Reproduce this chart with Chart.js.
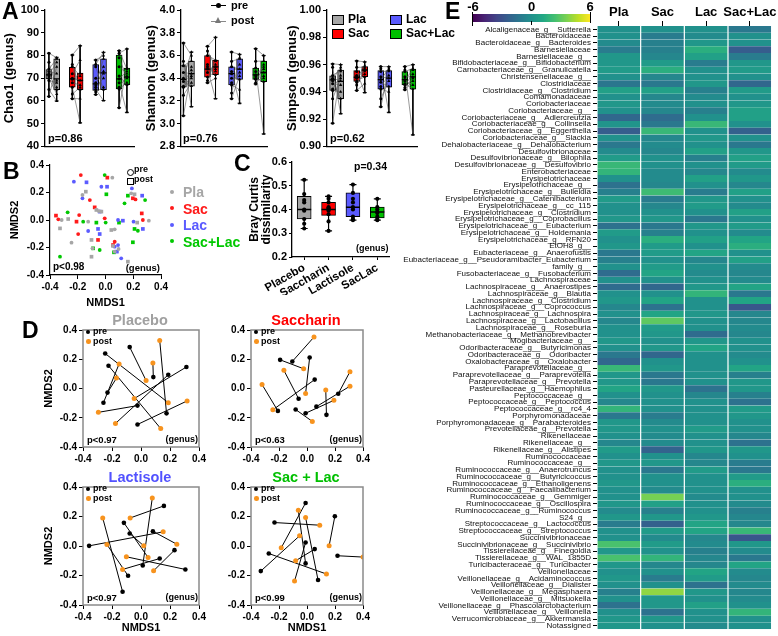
<!DOCTYPE html>
<html>
<head>
<meta charset="utf-8">
<title>Sweetener microbiome figure</title>
<script src="https://cdn.jsdelivr.net/npm/chart.js@4.4.1/dist/chart.umd.min.js"></script>
<style>
  html, body { margin: 0; padding: 0; background: #fff; }
  body { position: relative; width: 778px; height: 636px; overflow: hidden; font-family: 'Liberation Sans', Arial, sans-serif; }
  .c { position: absolute; }
  .t { position: absolute; white-space: nowrap; font-weight: bold; line-height: 1; }
  .mk { position: absolute; }
</style>
</head>
<body>
<script>
// ---------- panel A : alpha diversity (min, q1, median, q3, max) ----------
// order: Pla pre, Pla post, Sac pre, Sac post, Lac pre, Lac post, Sac+Lac pre, Sac+Lac post
const chao1Box = [[62, 69.7, 71.5, 73.8, 81], [60, 65, 69.7, 78.5, 79.2], [61, 66, 69.7, 74.8, 80.2], [50.4, 65, 69, 72.3, 84.3],
                  [62.8, 64.6, 67.5, 76, 78], [60.2, 65, 72.3, 78.5, 81.4], [57, 65.3, 69.7, 80.2, 82.1], [55, 67.1, 70.5, 74.4, 82.9]];
const chao1Pre = [[81, 77, 74, 73, 72, 71.5, 71, 70, 69, 65, 62], [80.2, 76, 75, 72, 70, 69.5, 68, 66, 63, 61],
                  [78, 76, 75, 70, 68, 67, 66, 65, 64, 62.8], [82.1, 81, 79, 75, 71, 69.7, 68, 66, 65.3, 57]];
const chao1Post = [[79, 66, 78.5, 72, 65, 77, 69, 63, 68, 60, 75], [84.3, 65, 71, 78, 69, 72, 67, 50.4, 66, 61],
                   [80, 81.4, 65, 75, 72, 78.5, 70, 60.2, 66, 73], [74, 82.9, 70, 72, 67, 73, 55, 71, 68, 74.4]];

const shannonBox = [[3.07, 3.32, 3.39, 3.51, 3.71], [3.15, 3.33, 3.44, 3.55, 3.63], [3.36, 3.41, 3.48, 3.60, 3.68], [3.22, 3.43, 3.50, 3.56, 3.76],
                    [3.22, 3.34, 3.44, 3.50, 3.63], [3.18, 3.39, 3.48, 3.57, 3.61], [3.35, 3.39, 3.43, 3.49, 3.66], [2.91, 3.37, 3.45, 3.55, 3.60]];
const shannonPre = [[3.71, 3.55, 3.51, 3.45, 3.40, 3.39, 3.37, 3.33, 3.32, 3.25, 3.07], [3.68, 3.64, 3.60, 3.52, 3.48, 3.45, 3.41, 3.38, 3.36, 3.50],
                    [3.63, 3.55, 3.50, 3.46, 3.44, 3.40, 3.36, 3.34, 3.27, 3.22], [3.66, 3.55, 3.49, 3.46, 3.43, 3.42, 3.40, 3.39, 3.36, 3.35]];
const shannonPost = [[3.60, 3.15, 3.55, 3.44, 3.63, 3.40, 3.33, 3.50, 3.42, 3.36, 3.47], [3.76, 3.50, 3.56, 3.43, 3.22, 3.52, 3.46, 3.55, 3.40, 3.48],
                     [3.61, 3.57, 3.48, 3.18, 3.52, 3.39, 3.45, 3.30, 3.58, 3.42], [3.60, 3.55, 2.91, 3.45, 3.50, 3.40, 3.37, 3.48, 3.42, 3.52]];

const simpsonBox = [[0.917, 0.941, 0.9488, 0.9517, 0.9605], [0.924, 0.935, 0.9476, 0.956, 0.960], [0.941, 0.9476, 0.9507, 0.9556, 0.9627], [0.9395, 0.9512, 0.956, 0.9585, 0.962],
                    [0.929, 0.942, 0.949, 0.9556, 0.9585], [0.925, 0.9434, 0.950, 0.9556, 0.9585], [0.9415, 0.945, 0.949, 0.9549, 0.9585], [0.9085, 0.942, 0.951, 0.9566, 0.960]];
const simpsonPre = [[0.9605, 0.958, 0.952, 0.950, 0.949, 0.948, 0.946, 0.942, 0.941, 0.935, 0.917], [0.9627, 0.958, 0.955, 0.952, 0.951, 0.950, 0.948, 0.947, 0.945, 0.941],
                    [0.9585, 0.957, 0.955, 0.951, 0.949, 0.947, 0.944, 0.942, 0.935, 0.929], [0.9585, 0.956, 0.955, 0.951, 0.949, 0.948, 0.946, 0.945, 0.943, 0.9415]];
const simpsonPost = [[0.960, 0.924, 0.956, 0.948, 0.958, 0.935, 0.945, 0.952, 0.940, 0.950, 0.955], [0.962, 0.958, 0.9395, 0.956, 0.955, 0.959, 0.951, 0.953, 0.957, 0.946],
                     [0.9585, 0.925, 0.955, 0.950, 0.957, 0.944, 0.952, 0.940, 0.948, 0.956], [0.960, 0.9085, 0.957, 0.951, 0.956, 0.945, 0.942, 0.953, 0.950, 0.948]];

// ---------- panel B : NMDS all groups ----------
const bPlaPre = [[0.049, 0.308], [-0.166, 0.182], [-0.049, 0.065], [-0.316, 0.000], [-0.125, -0.012], [0.066, -0.068], [0.185, 0.194], [0.312, -0.005], [-0.245, -0.165], [-0.094, -0.206], [0.094, -0.211], [0.066, -0.230]];
const bPlaPost = [[-0.142, 0.206], [-0.066, 0.073], [-0.030, 0.061], [-0.269, 0.007], [-0.328, -0.061], [0.042, -0.073], [0.209, 0.187], [0.228, -0.019], [-0.101, -0.145], [0.054, -0.189], [-0.101, -0.267], [0.161, -0.303]];
const bSacPre = [[-0.178, 0.327], [-0.113, 0.145], [-0.190, 0.036], [-0.340, 0.005], [-0.006, 0.012], [0.216, 0.150], [0.269, 0.000], [0.066, -0.158], [-0.197, -0.102]];
const bSacPost = [[0.013, 0.308], [-0.078, 0.092], [-0.357, 0.032], [-0.209, -0.012], [0.197, 0.158], [0.261, 0.048], [-0.054, -0.145], [0.054, -0.182]];
const bLacPre = [[-0.228, 0.279], [-0.030, 0.242], [-0.166, 0.158], [0.190, 0.230], [0.090, 0.000], [0.202, -0.012], [-0.125, -0.080], [0.066, -0.194], [0.113, -0.279], [0.090, -0.182]];
const bLacPost = [[-0.137, 0.274], [0.011, 0.242], [0.264, 0.177], [-0.042, 0.061], [0.125, -0.005], [-0.054, -0.065], [-0.042, -0.102], [0.082, -0.230], [0.269, -0.065]];
const bSLPre = [[-0.006, 0.327], [-0.161, -0.012], [-0.273, 0.056], [0.137, 0.121], [0.285, 0.145], [0.233, -0.078], [-0.328, -0.267], [-0.042, -0.218], [0.001, -0.019]];
const bSLPost = [[0.006, 0.187], [-0.066, -0.019], [0.097, -0.019], [0.161, 0.177], [0.209, -0.065], [0.197, -0.162], [-0.090, -0.206], [0.061, -0.235]];

// ---------- panel C : Bray Curtis ----------
const cNames = ['Placebo', 'Saccharin', 'Lactisole', 'SacLac'];
const cBox = [[0.32, 0.36, 0.40, 0.455, 0.525], [0.31, 0.375, 0.40, 0.43, 0.455], [0.355, 0.37, 0.41, 0.47, 0.505], [0.355, 0.365, 0.39, 0.41, 0.445]];
const cPts = [[0.525, 0.465, 0.44, 0.43, 0.40, 0.395, 0.36, 0.34, 0.32], [0.455, 0.445, 0.43, 0.41, 0.405, 0.40, 0.395, 0.38, 0.35, 0.31],
              [0.505, 0.47, 0.445, 0.43, 0.41, 0.40, 0.37, 0.36, 0.355], [0.445, 0.41, 0.40, 0.39, 0.385, 0.37, 0.36, 0.355]];

// ---------- panel D : paired NMDS (pre[i] -> post[i]) ----------
const dPlaPre = [[-0.078, 0.283], [-0.247, 0.239], [-0.224, 0.156], [0.085, 0.078], [-0.259, -0.097], [-0.231, -0.028], [0.313, 0.147], [0.188, 0.094], [-0.024, -0.117], [0.176, -0.170], [-0.024, -0.246]];
const dPlaPost = [[0.035, 0.055], [0.188, -0.097], [0.136, -0.274], [0.082, 0.175], [-0.151, 0.168], [-0.169, 0.071], [-0.047, -0.069], [-0.176, -0.239], [-0.294, -0.163], [0.129, 0.329], [0.318, -0.085]];
const dSacPre = [[-0.192, 0.196], [-0.105, 0.185], [0.019, 0.212], [0.055, 0.061], [-0.060, -0.070], [-0.208, -0.153], [-0.081, -0.144], [-0.010, -0.169], [0.067, -0.124], [0.139, -0.180], [0.223, -0.036]];
const dSacPost = [[-0.024, 0.135], [0.050, 0.352], [-0.010, -0.034], [-0.244, -0.146], [-0.165, 0.124], [-0.321, 0.027], [0.038, -0.225], [0.192, -0.081], [0.307, 0.016], [0.134, -0.011], [0.307, 0.115]];
const dLacPre = [[0.158, 0.272], [0.012, -0.132], [-0.358, 0.001], [-0.118, 0.157], [-0.078, 0.085], [0.082, 0.100], [-0.127, -0.310], [-0.089, -0.202], [0.306, -0.159], [0.231, -0.028], [0.129, -0.085]];
const dLacPost = [[-0.075, 0.190], [0.078, 0.326], [0.153, 0.096], [0.049, -0.078], [0.019, 0.001], [0.247, 0.012], [-0.264, 0.190], [-0.235, 0.010], [-0.101, -0.073], [0.087, -0.168], [-0.127, -0.159]];
const dSLPre = [[-0.010, 0.292], [-0.232, 0.159], [-0.330, -0.170], [-0.010, 0.024], [0.055, -0.021], [-0.010, -0.118], [0.079, -0.231], [-0.273, -0.051], [0.199, 0.202], [0.218, -0.066]];
const dSLPost = [[-0.184, -0.012], [0.091, 0.141], [-0.053, 0.069], [-0.089, -0.238], [-0.081, -0.100], [-0.062, 0.242], [-0.010, 0.193], [0.139, -0.190], [0.158, 0.001], [0.400, -0.075]];

// ---------- panel E : heatmap ----------
const hmCols = ['Pla', 'Sac', 'Lac', 'Sac+Lac'];
const taxa = [
  'Alcaligenaceae_g__Sutterella', 'Bacteroidaceae', 'Bacteroidaceae_g__Bacteroides', 'Barnesiellaceae', 'Barnesiellaceae_g__',
  'Bifidobacteriaceae_g__Bifidobacterium', 'Carnobacteriaceae_g__Granulicatella', 'Christensenellaceae_g__', 'Clostridiaceae', 'Clostridiaceae_g__Clostridium',
  'Comamonadaceae', 'Coriobacteriaceae', 'Coriobacteriaceae_g__', 'Coriobacteriaceae_g__Adlercreutzia', 'Coriobacteriaceae_g__Collinsella',
  'Coriobacteriaceae_g__Eggerthella', 'Coriobacteriaceae_g__Slackia', 'Dehalobacteriaceae_g__Dehalobacterium', 'Desulfovibrionaceae', 'Desulfovibrionaceae_g__Bilophila',
  'Desulfovibrionaceae_g__Desulfovibrio', 'Enterobacteriaceae', 'Erysipelotrichaceae', 'Erysipelotrichaceae_g__', 'Erysipelotrichaceae_g__Bulleidia',
  'Erysipelotrichaceae_g__Catenibacterium', 'Erysipelotrichaceae_g__cc_115', 'Erysipelotrichaceae_g__Clostridium', 'Erysipelotrichaceae_g__Coprobacillus', 'Erysipelotrichaceae_g__Eubacterium',
  'Erysipelotrichaceae_g__Holdemania', 'Erysipelotrichaceae_g__RFN20', 'EtOH8_g__', 'Eubacteriaceae_g__Anaerofustis', 'Eubacteriaceae_g__Pseudoramibacter_Eubacterium',
  'family_g__', 'Fusobacteriaceae_g__Fusobacterium', 'Lachnospiraceae', 'Lachnospiraceae_g__Anaerostipes', 'Lachnospiraceae_g__Blautia',
  'Lachnospiraceae_g__Clostridium', 'Lachnospiraceae_g__Coprococcus', 'Lachnospiraceae_g__Lachnospira', 'Lachnospiraceae_g__Lactobacillus', 'Lachnospiraceae_g__Roseburia',
  'Methanobacteriaceae_g__Methanobrevibacter', 'Mogibacteriaceae_g__', 'Odoribacteraceae_g__Butyricimonas', 'Odoribacteraceae_g__Odoribacter', 'Oxalobacteraceae_g__Oxalobacter',
  'Paraprevotellaceae_g__', 'Paraprevotellaceae_g__Paraprevotella', 'Paraprevotellaceae_g__Prevotella', 'Pasteurellaceae_g__Haemophilus', 'Peptococcaceae_g__',
  'Peptococcaceae_g__Peptococcus', 'Peptococcaceae_g__rc4_4', 'Porphyromonadaceae', 'Porphyromonadaceae_g__Parabacteroides', 'Prevotellaceae_g__Prevotella',
  'Rikenellaceae', 'Rikenellaceae_g__', 'Rikenellaceae_g__Alistipes', 'Ruminococcaceae', 'Ruminococcaceae_g__',
  'Ruminococcaceae_g__Anaerotruncus', 'Ruminococcaceae_g__Butyricicoccus', 'Ruminococcaceae_g__Ethanoligenens', 'Ruminococcaceae_g__Faecalibacterium', 'Ruminococcaceae_g__Gemmiger',
  'Ruminococcaceae_g__Oscillospira', 'Ruminococcaceae_g__Ruminococcus', 'S24_g__', 'Streptococcaceae_g__Lactococcus', 'Streptococcaceae_g__Streptococcus',
  'Succinivibrionaceae', 'Succinivibrionaceae_g__Succinivibrio', 'Tissierellaceae_g__Finegoldia', 'Tissierellaceae_g__WAL_1855D', 'Turicibacteraceae_g__Turicibacter',
  'Veillonellaceae', 'Veillonellaceae_g__Acidaminococcus', 'Veillonellaceae_g__Dialister', 'Veillonellaceae_g__Megasphaera', 'Veillonellaceae_g__Mitsuokella',
  'Veillonellaceae_g__Phascolarctobacterium', 'Veillonellaceae_g__Veillonella', 'Verrucomicrobiaceae_g__Akkermansia', 'Notassigned'
];
const hmPla = [0, 0, -0.3, -1, 0.3, 0.3, 0.5, 0, -1.3, 0.8, 0, 0.3, 0, -2, 0.2, -2.5, 0, -1.2, -0.3, 0.5,
  2, 1.8, 0, -1.5, -0.8, 0.5, 0, 0, 0.3, -1.5, 0.5, 0, 0.3, -1.2, -0.8, 0, -1.8, 0, -1.8, 0,
  0.3, -0.5, 0, -0.5, 0, 0, 0.3, 0, -1.2, -2, 2, 0.3, 0.3, 1, 0, -0.5, 1.8, -1.2, 0.3, 0.3,
  0, -0.5, 0.5, 0, 0.3, 0, 0, 0.3, 0, 0, 0.3, -0.3, 0.3, -1, 0, 0, 2.5, 0.3, 2.5, 0.3,
  0, 0.3, 0, -0.8, 0, -1.5, 0, 0.3, 0.3];
const hmSac = [0, -1, -0.8, -0.8, -0.5, 0.5, 1.5, -0.5, -1.2, 0.8, -0.5, -0.3, -0.5, -1.8, -1.2, 2, -0.5, -0.3, -0.5, 0,
  0, -0.3, -0.3, -0.5, 2.2, -1, -0.5, 0, 0.3, -1.2, -0.8, 1.5, 0.5, 0.5, 0, 0.5, 1, 0, -2, 0,
  1, -1.5, 1, 3, 0.5, 0.3, 0, 0.3, -2, 0, 0.3, -1.2, -1.2, 0.3, 0, 0, 0, -1, -0.3, 0,
  -0.3, -0.3, -2.2, 0, 0.3, -1.2, 0, 0, -0.3, 3.5, 0.8, -0.8, 0.3, -2.3, 0.5, -0.3, 0.5, 0, 1.8, -0.5,
  0, -1, 0, 4, 0.3, 0.3, -1.5, 0.3, 0];
const hmLac = [0, -0.3, 0.3, 1.5, 0.8, -1, 0, 0, 0.3, -0.8, -0.3, 0, -0.8, 0, 2, 0, 0.3, 0, 0.8, -0.8,
  0, -0.5, 0.8, 0, -1, 0.3, 0.5, 0, -1.2, 0.3, 0, 0.8, 0, 1, -0.5, 0, -0.3, 0, 0.3, 1.8,
  0, 0, 0.3, 0, 0, -1.8, 0.3, 1, 0, 0, 0, 0, 0, -1.5, -0.5, 0, 0, 0, 0, 0.5,
  0, 0, 0.3, -0.5, -0.5, 0.5, 0, 0, 0, -0.3, 0, 0, 0.3, 1, 1, -0.5, -0.3, -0.8, -0.5, -0.5,
  1, 0.5, -1.5, 0.3, 0, 0.8, 0, 0, -0.3];
const hmSacLac = [-1.2, 0, 0, -2.5, -1, 0.3, 0.5, 0, -2, 0.5, 0, 0.3, 0.8, 0.8, 0, -2.3, 0, -1.2, 0.3, 0.8,
  0.5, -0.3, 0.3, -0.5, 0.8, 0, -0.3, 0.8, 0, 0.5, -0.3, 1, 1.5, 0, 0.8, -0.3, -0.5, -0.3, 1, -1.2,
  1, -2.8, -0.5, -0.5, -0.3, -0.5, 0, 0, -0.3, 0, 1, -0.8, 0.3, 0.3, -0.8, -1.5, 0.5, 0.3, 0, 0,
  -0.5, -1.5, 0.3, 0, -1, -1.2, 0.5, 1.5, 0, 0, -0.3, -0.8, -0.5, -0.5, 2, -2.8, 0.3, -0.3, -1.2, 1,
  -0.3, -0.5, -0.3, -0.5, -0.3, 0, 1.8, 0, 0];

// ---------- styling ----------
const GRAY = '#a6a6a6', RED = '#ff0000', BLUE = '#5b5bff', GREEN = '#00c000', ORANGE = '#f7931e';
const BOX_COLORS = [GRAY, GRAY, RED, RED, BLUE, BLUE, GREEN, GREEN];
const viridisStops = ['#440154', '#482475', '#414487', '#355f8d', '#2a788e', '#21918c', '#22a884', '#44bf70', '#7ad151', '#bddf26', '#fde725'];

Chart.defaults.font.family = "'Liberation Sans', Arial, sans-serif";
Chart.defaults.color = '#000';
Chart.defaults.animation = false;
Chart.defaults.responsive = true;
Chart.defaults.maintainAspectRatio = false;
Chart.defaults.plugins.legend.display = false;
Chart.defaults.plugins.tooltip.enabled = false;

function hexRgb(h) {
  return [1, 3, 5].map(i => parseInt(h.slice(i, i + 2), 16));
}
function viridis(v) {
  const t = Math.min(1, Math.max(0, (v + 6) / 12)) * 10;
  const i = Math.min(9, Math.floor(t)), f = t - i;
  const a = hexRgb(viridisStops[i]), b = hexRgb(viridisStops[i + 1]);
  return 'rgb(' + a.map((c, k) => Math.round(c + (b[k] - c) * f)).join(',') + ')';
}
const fmt1 = v => (Math.abs(v) < 1e-9 ? 0 : v).toFixed(1);
const pts = arr => arr.map(([x, y]) => ({x, y}));

// box = [left, top, width, height], area = [left, top, right, bottom] (page px)
function panel(box, area) {
  const div = document.createElement('div');
  div.className = 'c';
  div.style.left = box[0] + 'px';
  div.style.top = box[1] + 'px';
  div.style.width = box[2] + 'px';
  div.style.height = box[3] + 'px';
  const cv = document.createElement('canvas');
  div.appendChild(cv);
  document.body.appendChild(div);
  return {
    cv,
    padding: {left: 0, top: area[1] - box[1], right: box[0] + box[2] - area[2], bottom: 0},
    yW: area[0] - box[0],
    xH: box[1] + box[3] - area[3]
  };
}

function txt(s, x, y, size, color, align) {
  const d = document.createElement('div');
  d.className = 't';
  d.textContent = s;
  d.style.left = x + 'px';
  d.style.top = y + 'px';
  d.style.fontSize = size + 'px';
  d.style.color = color || '#000';
  if (align === 'center') d.style.transform = 'translateX(-50%)';
  if (align === 'right') d.style.transform = 'translateX(-100%)';
  document.body.appendChild(d);
}
function mark(x, y, w, h, css) {
  const d = document.createElement('div');
  d.className = 'mk';
  d.style.cssText += 'left:' + x + 'px;top:' + y + 'px;width:' + w + 'px;height:' + h + 'px;' + (css || '');
  document.body.appendChild(d);
}

// ---------- A ----------
function boxPanel(box, area, stats, pre, post, yr, title, xr) {
  const p = panel(box, area);
  const bars = [], whisk = [], caps = [], meds = [], prePts = [], postPts = [], links = [];
  stats.forEach((s, i) => {
    const x = 3 * Math.floor(i / 2) + (i % 2);
    bars.push({x, y: [s[1], s[3]]});
    whisk.push({x, y: s[4]}, {x, y: s[3]}, {x, y: null}, {x, y: s[1]}, {x, y: s[0]}, {x, y: null});
    caps.push({x, y: s[0]}, {x, y: s[4]});
    meds.push({x, y: s[2]});
  });
  pre.forEach((vals, g) => vals.forEach((v, j) => {
    const a = {x: 3 * g, y: v}, b = {x: 3 * g + 1, y: post[g][j]};
    prePts.push(a);
    postPts.push(b);
    links.push(a, b, {x: 3 * g + 1, y: null});
  }));
  new Chart(p.cv, {
    type: 'bar',
    data: {datasets: [
      {type: 'scatter', data: prePts, pointStyle: 'circle', pointRadius: 1.5, pointBackgroundColor: '#000', pointBorderWidth: 0, order: 0},
      {type: 'scatter', data: postPts, pointStyle: 'triangle', pointRadius: 1.9, pointBackgroundColor: '#000', pointBorderWidth: 0, order: 0},
      {type: 'scatter', data: meds, pointStyle: 'line', pointRadius: 3, pointBorderColor: '#000', pointBorderWidth: 1.3, order: 1},
      {type: 'line', data: links, borderColor: '#555', borderWidth: 0.6, pointRadius: 0, spanGaps: false, order: 2},
      {type: 'scatter', data: caps, pointStyle: 'line', pointRadius: 2, pointBorderColor: '#000', pointBorderWidth: 1, order: 3},
      {type: 'line', data: whisk, borderColor: '#000', borderWidth: 1, pointRadius: 0, spanGaps: false, order: 3},
      {type: 'bar', data: bars, backgroundColor: BOX_COLORS, borderColor: '#000', borderWidth: 1, borderSkipped: false, barThickness: 6, order: 4}
    ]},
    options: {
      layout: {padding: p.padding},
      scales: {
        x: {type: 'linear', offset: false, min: xr[0], max: xr[1], ticks: {display: false}, grid: {display: false},
            border: {color: '#000', width: 1.3}, afterFit: s => { s.height = p.xH; }},
        y: {type: 'linear', min: yr[0], max: yr[1],
            ticks: {stepSize: yr[2], callback: v => v.toFixed(yr[3]), font: {size: 11, weight: 'bold'}, color: '#000', padding: 2},
            grid: {drawOnChartArea: false, tickLength: 4, color: '#000'}, border: {color: '#000', width: 1.3},
            title: {display: true, text: title, font: {size: 13, weight: 'bold'}, color: '#000', padding: {top: 2, bottom: 0}},
            afterFit: s => { s.width = p.yW; }}
      }
    }
  });
}
boxPanel([0, 0, 140, 155], [45, 10, 137, 147], chao1Box, chao1Pre, chao1Post, [40, 100, 10, 0], 'Chao1 (genus)', [-0.5, 11]);
boxPanel([142, 0, 131, 155], [181, 10, 270, 147], shannonBox, shannonPre, shannonPost, [2.8, 4.0, 0.2, 1], 'Shannon (genus)', [-0.3, 10.5]);
boxPanel([283, 0, 140, 155], [327, 10, 420, 147], simpsonBox, simpsonPre, simpsonPost, [0.90, 1.00, 0.02, 2], 'Simpson (genus)', [-0.7, 10.6]);

txt('A', 2, 0, 23);
txt('p=0.86', 48, 133, 11);
txt('p=0.76', 183, 133, 11);
txt('p=0.62', 330, 133, 11);
mark(211, 5, 15, 1.2, 'background:#000');
mark(216, 3, 5, 5, 'background:#000;border-radius:50%');
txt('pre', 231, 0, 11);
mark(211, 21, 15, 1.2, 'background:#888');
mark(215, 17, 0, 0, 'border-left:3.5px solid transparent;border-right:3.5px solid transparent;border-bottom:6px solid #777');
txt('post', 231, 15, 11);
[[332, 15, GRAY, 'Pla'], [332, 29, RED, 'Sac'], [390, 15, BLUE, 'Lac'], [390, 29, GREEN, 'Sac+Lac']].forEach(([x, y, c, s]) => {
  mark(x, y, 10, 8, 'background:' + c + ';border:1px solid #000');
  txt(s, x + 16, y - 2, 12);
});

// ---------- B ----------
function nmdsAxis(fit, title, withBorder) {
  return {
    type: 'linear', min: -0.4, max: 0.4,
    ticks: {stepSize: 0.2, callback: v => fmt1(v), font: {size: 10, weight: 'bold'}, color: '#000', padding: 2},
    grid: {drawOnChartArea: false, tickLength: 4, color: '#000'},
    border: {display: withBorder, color: '#000', width: 1.2},
    title: {display: !!title, text: title, font: {size: 11, weight: 'bold'}, color: '#000', padding: 1},
    afterFit: fit
  };
}
(function () {
  const p = panel([7, 155, 163, 156], [50, 165, 162, 275]);
  const groups = [[bPlaPre, bPlaPost, GRAY], [bSacPre, bSacPost, '#ff1a1a'], [bLacPre, bLacPost, BLUE], [bSLPre, bSLPost, '#00c800']];
  const datasets = [];
  groups.forEach(([pre, post, c]) => {
    datasets.push({data: pts(pre), pointStyle: 'circle', pointRadius: 1.9, pointBackgroundColor: c, pointBorderWidth: 0});
    datasets.push({data: pts(post), pointStyle: 'rect', pointRadius: 2.6, pointBackgroundColor: c, pointBorderWidth: 0});
  });
  new Chart(p.cv, {
    type: 'scatter',
    data: {datasets},
    options: {
      layout: {padding: p.padding},
      scales: {
        x: nmdsAxis(s => { s.height = p.xH; }, 'NMDS1', true),
        y: nmdsAxis(s => { s.width = p.yW; }, 'NMDS2', true)
      }
    }
  });
})();
txt('B', 3, 160, 23);
mark(126.5, 168.5, 5, 5, 'border:1px solid #000;border-radius:50%');
txt('pre', 134, 165, 9);
mark(126.5, 178, 5, 5, 'border:1px solid #000');
txt('post', 134, 175, 9);
txt('p<0.98', 53, 262, 10);
txt('(genus)', 160, 263, 9.5, '#000', 'right');
[[GRAY, 'Pla'], ['#ff1a1a', 'Sac'], [BLUE, 'Lac'], ['#00c800', 'Sac+Lac']].forEach(([c, s], i) => {
  const y = 185 + i * 16.5;
  mark(170, y + 4.5, 4, 4, 'background:' + c + ';border-radius:50%');
  txt(s, 183, y, 14, c);
});

// ---------- C ----------
(function () {
  const p = panel([246, 150, 152, 145], [292, 162, 390, 257]);
  const bars = [], whisk = [], caps = [], meds = [], dots = [];
  cBox.forEach((s, i) => {
    bars.push({x: i, y: [s[1], s[3]]});
    whisk.push({x: i, y: s[4]}, {x: i, y: s[3]}, {x: i, y: null}, {x: i, y: s[1]}, {x: i, y: s[0]}, {x: i, y: null});
    caps.push({x: i, y: s[0]}, {x: i, y: s[4]});
    meds.push({x: i, y: s[2]});
    cPts[i].forEach(v => dots.push({x: i, y: v}));
  });
  new Chart(p.cv, {
    type: 'bar',
    data: {datasets: [
      {type: 'scatter', data: dots, pointRadius: 2.1, pointBackgroundColor: '#000', pointBorderWidth: 0, order: 0},
      {type: 'scatter', data: meds, pointStyle: 'line', pointRadius: 7, pointBorderColor: '#000', pointBorderWidth: 1.5, order: 1},
      {type: 'scatter', data: caps, pointStyle: 'line', pointRadius: 3.5, pointBorderColor: '#000', pointBorderWidth: 1.2, order: 2},
      {type: 'line', data: whisk, borderColor: '#000', borderWidth: 1.2, pointRadius: 0, spanGaps: false, order: 2},
      {type: 'bar', data: bars, backgroundColor: [GRAY, RED, BLUE, GREEN], borderColor: '#000', borderWidth: 1, borderSkipped: false, barThickness: 14, order: 3}
    ]},
    options: {
      layout: {padding: p.padding},
      scales: {
        x: {type: 'linear', offset: false, min: -0.5, max: 3.5,
            afterBuildTicks: s => { s.ticks = cNames.map((n, i) => ({value: i})); },
            ticks: {autoSkip: false, minRotation: 30, maxRotation: 30, callback: v => cNames[v], font: {size: 11.5, weight: 'bold'}, color: '#000', padding: 1},
            grid: {drawOnChartArea: false, offset: false, tickLength: 3, color: '#000'}, border: {color: '#000', width: 1.3},
            afterFit: s => { s.height = p.xH; }},
        y: {type: 'linear', min: 0.2, max: 0.6,
            ticks: {stepSize: 0.1, callback: v => fmt1(v), font: {size: 11, weight: 'bold'}, color: '#000', padding: 2},
            grid: {drawOnChartArea: false, tickLength: 3, color: '#000'}, border: {color: '#000', width: 1.3},
            title: {display: true, text: ['Bray Curtis', 'dissimilarity'], font: {size: 12, weight: 'bold', lineHeight: 1.0}, color: '#000', padding: {top: 3, bottom: 0}},
            afterFit: s => { s.width = p.yW; }}
      }
    }
  });
})();
txt('C', 234, 152, 23);
txt('p=0.34', 354, 161, 10.5);
txt('(genus)', 356, 244, 9);

// ---------- D ----------
const boxFrame = {
  id: 'boxFrame',
  afterDraw(chart) {
    const {ctx, chartArea: a} = chart;
    ctx.save();
    ctx.strokeStyle = '#8a8a8a';
    ctx.lineWidth = 1.5;
    ctx.strokeRect(a.left, a.top, a.right - a.left, a.bottom - a.top);
    ctx.restore();
  }
};
function pairPanel(box, area, pre, post, xTitle, yTitle, name, color, pText) {
  const p = panel(box, area);
  const links = [];
  pre.forEach(([x, y], i) => {
    links.push({x, y}, {x: post[i][0], y: post[i][1]}, {x: post[i][0], y: null});
  });
  new Chart(p.cv, {
    type: 'scatter',
    data: {datasets: [
      {data: pts(post), pointRadius: 2.5, pointBackgroundColor: ORANGE, pointBorderWidth: 0, order: 0},
      {data: pts(pre), pointRadius: 2.3, pointBackgroundColor: '#000', pointBorderWidth: 0, order: 1},
      {type: 'line', data: links, borderColor: '#000', borderWidth: 1, pointRadius: 0, spanGaps: false, order: 2}
    ]},
    options: {
      layout: {padding: p.padding},
      scales: {
        x: nmdsAxis(s => { s.height = p.xH; }, xTitle, false),
        y: nmdsAxis(s => { s.width = p.yW; }, yTitle, false)
      }
    },
    plugins: [boxFrame]
  });
  const [l, t, r, b] = area;
  txt(name, (l + r) / 2 - 1, t - 17, 14.5, color, 'center');
  mark(l + 3, t + 0, 4, 4, 'background:#000;border-radius:50%');
  txt('pre', l + 10, t - 3, 9);
  mark(l + 3, t + 9, 4.5, 4.5, 'background:' + ORANGE + ';border-radius:50%');
  txt('post', l + 10, t + 6.5, 9);
  txt(pText, l + 4, b - 12, 9.5);
  txt('(genus)', r - 1, b - 12, 9, '#000', 'right');
}
pairPanel([41, 320, 168, 142], [83, 330, 199, 447], dPlaPre, dPlaPost, '', 'NMDS2', 'Placebo', '#a0a0a0', 'p<0.97');
pairPanel([222, 320, 151, 142], [251, 330, 363, 447], dSacPre, dSacPost, '', '', 'Saccharin', RED, 'p<0.63');
pairPanel([41, 477, 168, 159], [83, 487, 199, 605], dLacPre, dLacPost, 'NMDS1', 'NMDS2', 'Lactisole', '#5252ff', 'p<0.97');
pairPanel([222, 477, 151, 159], [251, 487, 363, 605], dSLPre, dSLPost, 'NMDS1', '', 'Sac + Lac', GREEN, 'p<0.99');
txt('D', 22, 319, 23);

// ---------- E ----------
(function () {
  const div = document.createElement('div');
  div.className = 'c';
  div.style.cssText += 'left:385px;top:0px;width:393px;height:636px;';
  const cv = document.createElement('canvas');
  div.appendChild(cv);
  document.body.appendChild(div);
  const cols = [hmPla, hmSac, hmLac, hmSacLac];
  new Chart(cv, {
    type: 'bar',
    data: {
      labels: taxa,
      datasets: cols.map(vals => ({
        data: vals.map(() => 1),
        backgroundColor: vals.map(viridis),
        borderColor: '#ffffff',
        borderWidth: {left: 0.9, right: 0.9, top: 0, bottom: 0},
        borderSkipped: false,
        categoryPercentage: 1,
        barPercentage: 1,
        inflateAmount: 0.3
      }))
    },
    options: {
      indexAxis: 'y',
      layout: {padding: {left: 0, top: 0, right: 5, bottom: 2}},
      scales: {
        x: {type: 'linear', position: 'top', stacked: true, min: 0, max: 4,
            afterBuildTicks: s => { s.ticks = hmCols.map((c, i) => ({value: i + 0.5})); },
            ticks: {callback: v => hmCols[Math.floor(v)], font: {size: 13, weight: 'bold'}, color: '#000', padding: 1, maxRotation: 0},
            grid: {drawOnChartArea: false, tickLength: 5, color: '#000'}, border: {display: false},
            afterFit: s => { s.height = 26; }},
        y: {stacked: true,
            ticks: {autoSkip: false, font: {size: 8}, color: '#111', padding: 2},
            grid: {drawOnChartArea: false, offset: false, tickLength: 4, color: '#000'}, border: {display: false},
            afterFit: s => { s.width = 212; }}
      }
    }
  });
})();
txt('E', 445, 0, 23);
mark(473, 14, 117, 8, 'background:linear-gradient(to right,' + viridisStops.join(',') + ')');
mark(472, 12, 1, 14, 'background:#000');
mark(590, 12, 1, 11, 'background:#000');
mark(531, 21, 1, 4, 'background:#000');
txt('-6', 473, 0, 13, '#000', 'center');
txt('0', 531.5, 0, 13, '#000', 'center');
txt('6', 590, 0, 13, '#000', 'center');
</script>
</body>
</html>
